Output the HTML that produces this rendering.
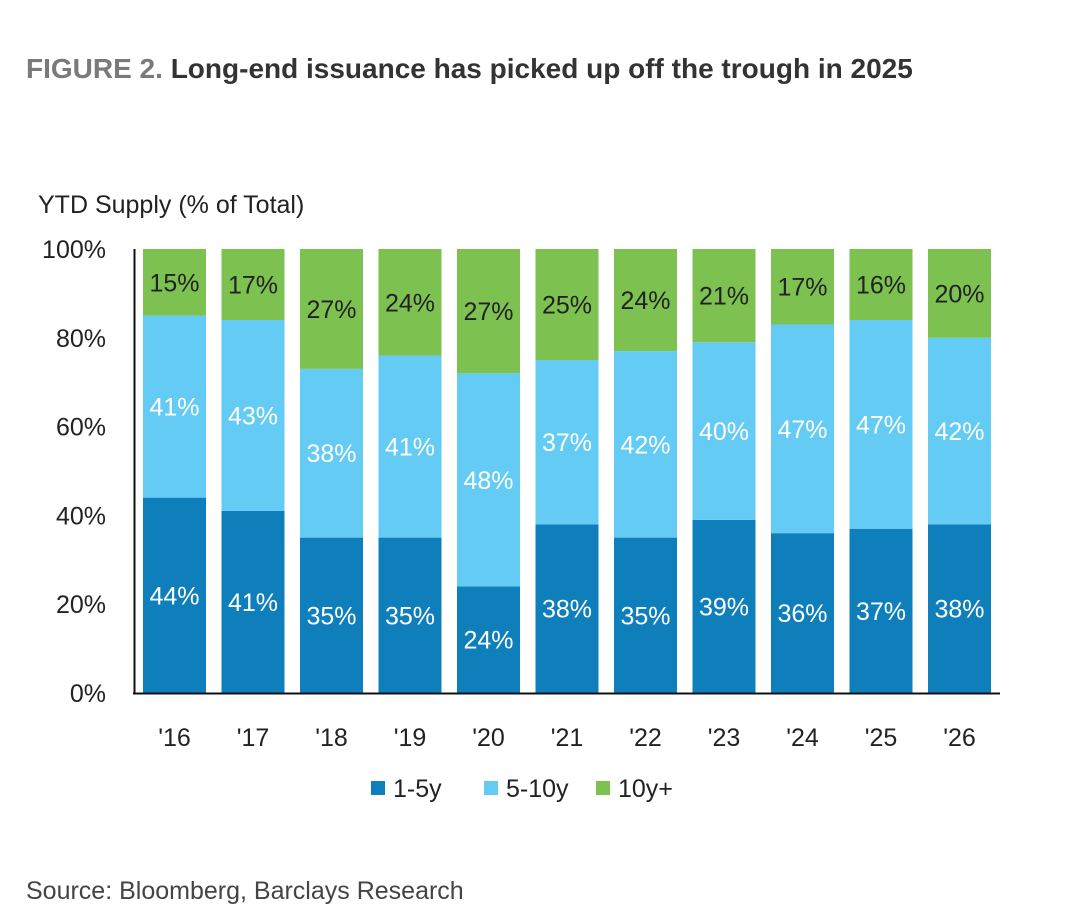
<!DOCTYPE html>
<html><head><meta charset="utf-8"><style>
body{margin:0;background:#fff;width:1080px;height:918px;overflow:hidden;font-family:"Liberation Sans",sans-serif}
svg text{font-family:"Liberation Sans",sans-serif}
</style></head><body>
<svg id="chart" width="1080" height="918">
<text x="26" y="78" font-size="28" font-weight="bold" fill="#7a7a7a">FIGURE 2. <tspan fill="#333">Long-end issuance has picked up off the trough in 2025</tspan></text>
<text x="38" y="213" font-size="25" fill="#222">YTD Supply (% of Total)</text>
<text x="26" y="899" font-size="25" fill="#444">Source: Bloomberg, Barclays Research</text>
<g id="plot"></g>
<g id="legend"></g>
</svg>
<script>
const categories=["'16","'17","'18","'19","'20","'21","'22","'23","'24","'25","'26"];
const short=[44,41,35,35,24,38,35,39,36,37,38];
const mid=[41,43,38,41,48,37,42,40,47,47,42];
const long=[15,17,27,24,27,25,24,21,17,16,20];
const yTicks=[0,20,40,60,80,100];
const seriesNames=["1-5y","5-10y","10y+"];
const colors=["#0f7fbc","#63cbf4","#7dc250"];
const NS="http://www.w3.org/2000/svg";
const y0=693,y100=249;
function y(v){return y0-(y0-y100)*v/100;}
function x(i){return 143+i*78.5;}
const bw=63;
const plot=document.getElementById('plot');
function mk(tag,attrs,parent){const e=document.createElementNS(NS,tag);for(const k in attrs)e.setAttribute(k,attrs[k]);parent.appendChild(e);return e;}
yTicks.forEach(t=>{
 const tx=mk('text',{x:106,y:y(t)+9,'font-size':25,'text-anchor':'end',fill:'#222'},plot);
 tx.textContent=t+'%';
 
 
});
const series=[short,mid,long];
categories.forEach((c,i)=>{
 let cum=0;
 series.forEach((s,k)=>{
  let top=(k==2)?100:cum+s[i];
  const r=mk('rect',{x:x(i),y:y(top),width:bw,height:y(cum)-y(top),fill:colors[k]},plot);
  
  
  const t=mk('text',{x:x(i)+bw/2,y:(y(cum)+y(top))/2+9,'font-size':25,'text-anchor':'middle',fill:k==2?'#222':'#fff'},plot);
  t.textContent=s[i]+'%';
  
  
  cum=top;
 });
 const lt=mk('text',{x:x(i)+bw/2,y:746,'font-size':25,'text-anchor':'middle',fill:'#222'},plot);
 lt.textContent=c;
 
 
});
const ax=mk('line',{x1:134.5,y1:249,x2:134.5,y2:694,stroke:'#111','stroke-width':2},plot);


const xa=mk('line',{x1:133,y1:693.5,x2:1000,y2:693.5,stroke:'#111','stroke-width':2},plot);


const lg=document.getElementById('legend');
const lx=[371,484,596];
seriesNames.forEach((n,k)=>{
 const r=mk('rect',{x:lx[k],y:781,width:14,height:14,fill:colors[k]},lg);
 
 
 const t=mk('text',{x:lx[k]+22,y:797,'font-size':25,fill:'#222'},lg);
 t.textContent=n;
 
 
});
</script>
</body></html>
